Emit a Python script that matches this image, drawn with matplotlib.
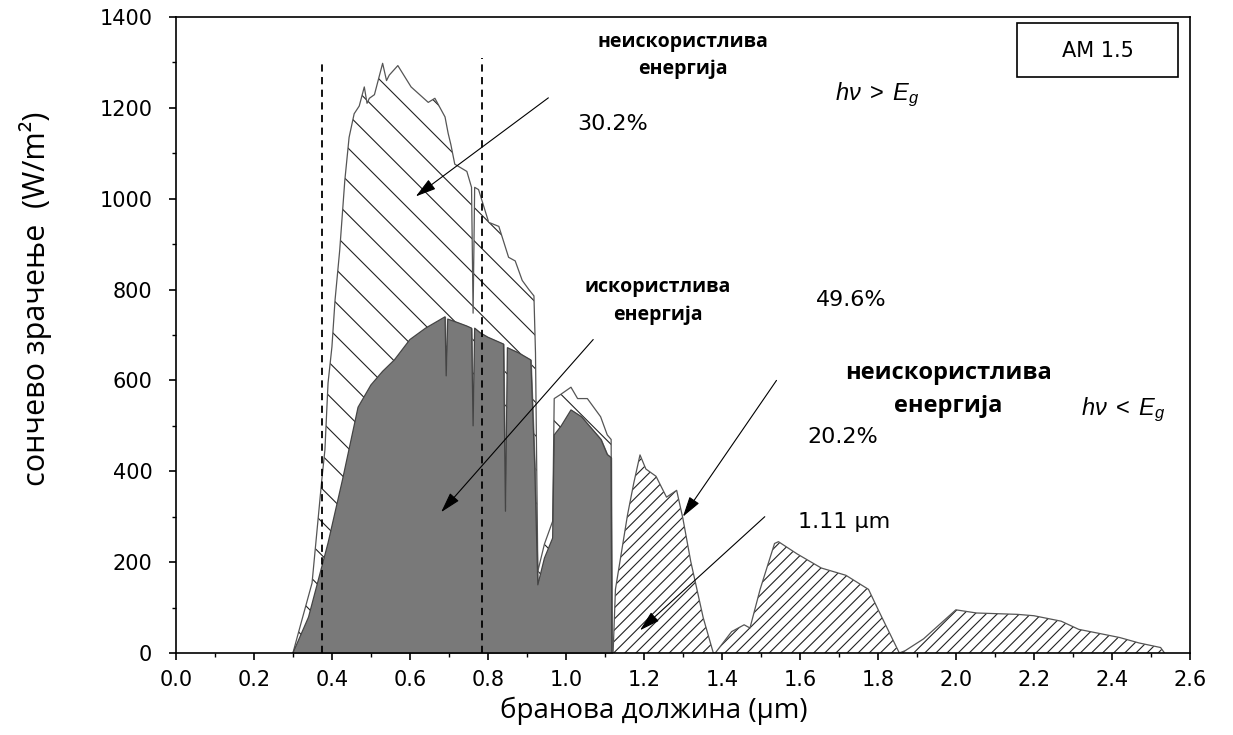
import numpy as np
import matplotlib
matplotlib.use("Agg")
import matplotlib.pyplot as plt
from matplotlib.patches import Rectangle

# AM 1.5 spectrum, visible / near IR part (total irradiance, W/m2 per um)
wl_vis = [0.300, 0.318, 0.349, 0.374, 0.382, 0.390, 0.400, 0.408, 0.420, 0.433,
          0.444, 0.457, 0.470, 0.483, 0.490, 0.496, 0.509, 0.530, 0.540, 0.547,
          0.569, 0.603, 0.647, 0.664, 0.690, 0.698, 0.705, 0.715, 0.746, 0.758,
          0.762, 0.766, 0.776, 0.802, 0.828, 0.853, 0.870, 0.888, 0.905, 0.918,
          0.922, 0.928, 0.945, 0.966, 0.970, 0.988, 1.013, 1.030, 1.055, 1.089,
          1.106, 1.116, 1.118]
total_vis = [0, 57, 154, 381, 447, 594, 674, 777, 887, 1040,
             1135, 1187, 1204, 1246, 1210, 1221, 1229, 1298, 1260, 1272,
             1293, 1246, 1212, 1221, 1180, 1144, 1119, 1076, 1060, 1025,
             748, 1025, 1020, 948, 939, 871, 863, 820, 800, 786,
             660, 180, 240, 290, 560, 570, 585, 560, 560, 520,
             480, 470, 0]

# usable part (photon energy above band gap of Si)
wl_use = [0.300, 0.340, 0.390, 0.427, 0.467, 0.500, 0.530, 0.560, 0.600, 0.640,
          0.680, 0.690, 0.693, 0.697, 0.720, 0.745, 0.758, 0.762, 0.766, 0.780,
          0.800, 0.840, 0.845, 0.850, 0.880, 0.910, 0.920, 0.928, 0.945, 0.966,
          0.970, 0.988, 1.013, 1.040, 1.070, 1.090, 1.106, 1.116, 1.118]
usable = [0, 79, 242, 381, 541, 590, 620, 645, 690, 715,
          735, 740, 610, 735, 728, 720, 715, 500, 715, 705,
          695, 680, 312, 672, 660, 645, 414, 150, 209, 253,
          480, 500, 535, 520, 490, 470, 437, 430, 0]

# infrared part beyond 1.11 um (not usable)
wl_ir = [1.121, 1.127, 1.158, 1.174, 1.190, 1.205, 1.231, 1.258, 1.284, 1.300,
         1.320, 1.352, 1.378, 1.383, 1.425, 1.457, 1.472, 1.498, 1.535, 1.545,
         1.593, 1.655, 1.718, 1.776, 1.802, 1.855, 1.870, 1.917, 2.000, 2.053,
         2.158, 2.200, 2.270, 2.315, 2.368, 2.420, 2.470, 2.525, 2.535]
total_ir = [0, 140, 304, 374, 436, 405, 389, 343, 358, 296,
            202, 78, 0, 0, 47, 62, 55, 140, 241, 245,
            218, 187, 171, 140, 93, 0, 5, 31, 95, 88,
            85, 82, 70, 52, 43, 34, 22, 12, 0]

visible_limits = [0.375, 0.785]
visible_tops = [1300, 1310]

plt.rcParams['hatch.linewidth'] = 0.8
plt.rcParams['mathtext.fontset'] = 'custom'
plt.rcParams['mathtext.it'] = 'Liberation Sans:italic'
plt.rcParams['mathtext.rm'] = 'Liberation Sans'

fig = plt.figure(figsize=(12.33, 7.35), dpi=100)
ax = fig.add_axes([0.1427, 0.1116, 0.8223, 0.8653])

# unusable energy above the gap (hatched), usable (gray) on top
ax.fill_between(wl_vis, 0, total_vis, facecolor='white', edgecolor='#222222',
                hatch='\\', linewidth=0)
ax.plot(wl_vis, total_vis, color='#555555', lw=0.9)
ax.fill_between(wl_use, 0, usable, facecolor='#797979', edgecolor='#797979',
                linewidth=0.8)
ax.plot(wl_use, usable, color='#444444', lw=0.9)

# energy below the gap
ax.fill_between(wl_ir, 0, total_ir, facecolor='white', edgecolor='#222222',
                hatch='///', linewidth=0)
ax.plot(wl_ir, total_ir, color='#555555', lw=0.9)

for xv, top in zip(visible_limits, visible_tops):
    ax.plot([xv, xv], [0, top], color='black', ls=(0, (4, 3)), lw=1.3)

ax.set_xlim(0, 2.6)
ax.set_ylim(0, 1400)
ax.set_xticks(np.arange(0, 2.61, 0.2))
ax.set_xticks(np.arange(0, 2.61, 0.1), minor=True)
ax.set_yticks(np.arange(0, 1401, 200))
ax.set_yticks(np.arange(0, 1401, 100), minor=True)
ax.set_xticklabels([f"{v:.1f}" for v in np.arange(0, 2.61, 0.2)])
ax.tick_params(which='major', direction='out', length=5, width=1.2,
               labelsize=15)
ax.tick_params(axis='y', which='major', pad=12)
ax.tick_params(axis='x', which='major', pad=7)
ax.tick_params(which='minor', direction='out', length=3, width=1)
for lbl in ax.get_xticklabels() + ax.get_yticklabels():
    lbl.set_family('DejaVu Sans')
for sp in ax.spines.values():
    sp.set_linewidth(1.2)

ax.set_xlabel('бранова должина (µm)', fontsize=20, family='Open Sans')
ax.set_ylabel('сончево зрачење  (W/m²)', fontsize=22, family='Open Sans')
ax.xaxis.set_label_coords(0.471, -0.068)
ax.yaxis.set_label_coords(-0.122, 0.557)

bold = dict(family='Open Sans', weight='bold', ha='center', va='center',
            linespacing=1.5)
ax.text(1.30, 1315, 'неискористлива\nенергија', fontsize=14, **bold)
ax.text(1.235, 775, 'искористлива\nенергија', fontsize=14, **bold)
ax.text(1.98, 580, 'неискористлива\nенергија', fontsize=17, **bold)

num = dict(family='DejaVu Sans', fontsize=16, va='center')
ax.text(1.03, 1165, '30.2%', **num)
ax.text(1.64, 777, '49.6%', **num)
ax.text(1.62, 475, '20.2%', **num)
ax.text(1.595, 288, '1.11 µm', **num)
ax.text(1.69, 1228, r'$h\nu\;>\;E_g$', fontsize=17, va='center')
ax.text(2.32, 535, r'$h\nu\;<\;E_g$', fontsize=17, va='center')

box = Rectangle((0.830, 0.905), 0.158, 0.085, transform=ax.transAxes,
                facecolor='white', edgecolor='black', lw=1.2)
ax.add_patch(box)
ax.text(0.909, 0.947, 'AM 1.5', transform=ax.transAxes, ha='center',
        va='center', fontsize=15, family='DejaVu Sans')

arrow = dict(arrowstyle='-|>,head_length=0.7,head_width=0.2', color='black',
             lw=0.8, mutation_scale=18, shrinkA=0, shrinkB=0)
ax.annotate('', xy=(0.615, 1005), xytext=(0.955, 1222), arrowprops=arrow)
ax.annotate('', xy=(0.68, 310), xytext=(1.07, 690), arrowprops=arrow)
ax.annotate('', xy=(1.30, 300), xytext=(1.54, 600), arrowprops=arrow)
ax.annotate('', xy=(1.19, 50), xytext=(1.51, 300), arrowprops=arrow)

fig.savefig('out.png', dpi=100)
